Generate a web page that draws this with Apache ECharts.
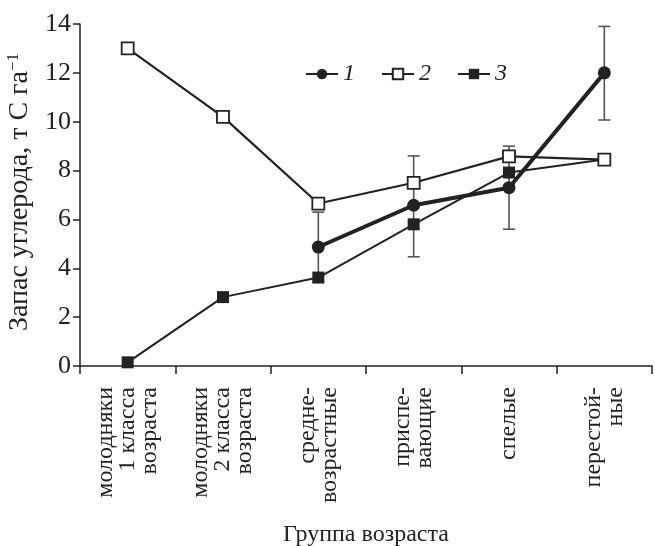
<!DOCTYPE html>
<html>
<head>
<meta charset="utf-8">
<script src="https://cdn.jsdelivr.net/npm/echarts@6/dist/echarts.min.js"></script>
<style>
  html, body { margin: 0; padding: 0; background: #fff; }
  #chart { width: 655px; height: 546px; }
</style>
</head>
<body>
<div id="chart"></div>
<script>
// age groups (x-axis)
var categories = [
  'молодняки\n1 класса\nвозраста',
  'молодняки\n2 класса\nвозраста',
  'средне-\nвозрастные',
  'приспе-\nвающие',
  'спелые',
  'перестой-\nные'
];
// carbon stock, t C/ha
var series1 = [null, null, 4.87, 6.58, 7.3, 12.0];
var series2 = [13.0, 10.2, 6.65, 7.5, 8.58, 8.45];
var series3 = [0.15, 2.82, 3.62, 5.8, 7.92, 8.45];
// error bars of series 1
var err1Low = [null, null, 3.45, 4.47, 5.6, 10.07];
var err1High = [null, null, 6.3, 8.6, 9.0, 13.9];

var serif = '"Liberation Serif", "DejaVu Serif", serif';

var errData = [];
for (var i = 0; i < categories.length; i++) {
  if (err1Low[i] != null) errData.push([i, err1Low[i], err1High[i]]);
}

var chart = echarts.init(document.getElementById('chart'));

var option = {
  backgroundColor: '#fff',
  animation: false,
  grid: { left: 80, right: 3, top: 24, bottom: 180, outerBoundsMode: 'none' },
  legend: {
    left: 300,
    top: 57,
    itemWidth: 32,
    itemHeight: 13,
    itemGap: 26,
    data: ['1', '2', '3'],
    textStyle: { fontFamily: serif, fontStyle: 'italic', fontSize: 24, color: '#222' }
  },
  xAxis: {
    type: 'category',
    data: categories,
    boundaryGap: true,
    name: 'Группа возраста',
    nameLocation: 'middle',
    nameGap: 157,
    nameTextStyle: { fontFamily: serif, fontSize: 24, color: '#222' },
    axisLine: { lineStyle: { color: '#222', width: 1.5 } },
    axisTick: { show: true, length: 8, lineStyle: { color: '#222', width: 1.5 } },
    axisLabel: {
      rotate: 90,
      interval: 0,
      margin: 21,
      fontFamily: serif,
      fontSize: 24,
      lineHeight: 22,
      color: '#222'
    },
    splitLine: { show: false }
  },
  yAxis: {
    type: 'value',
    min: 0,
    max: 14,
    interval: 2,
    name: '{a|Запас углерода, т С га}{s|−1}',
    nameLocation: 'middle',
    nameGap: 38,
    nameTextStyle: {
      padding: [0, 0, 0, 6],
      rich: {
        a: { fontFamily: serif, fontSize: 28, color: '#222' },
        s: { fontFamily: serif, fontSize: 17, color: '#222', verticalAlign: 'top', padding: [0, 0, 14, 0] }
      }
    },
    axisLine: { show: true, lineStyle: { color: '#222', width: 1.5 } },
    axisTick: { show: true, length: 7, lineStyle: { color: '#222', width: 1.5 } },
    axisLabel: { fontFamily: serif, fontSize: 26, color: '#222', margin: 9 },
    splitLine: { show: false }
  },
  series: [
    {
      name: 'err',
      type: 'custom',
      data: errData,
      z: 1,
      renderItem: function (params, api) {
        var x = api.value(0);
        var lo = api.coord([x, api.value(1)]);
        var hi = api.coord([x, api.value(2)]);
        var w = 6;
        var st = { stroke: '#555', lineWidth: 1.6 };
        return {
          type: 'group',
          children: [
            { type: 'line', shape: { x1: lo[0], y1: lo[1], x2: hi[0], y2: hi[1] }, style: st },
            { type: 'line', shape: { x1: lo[0] - w, y1: lo[1], x2: lo[0] + w, y2: lo[1] }, style: st },
            { type: 'line', shape: { x1: hi[0] - w, y1: hi[1], x2: hi[0] + w, y2: hi[1] }, style: st }
          ]
        };
      }
    },
    {
      name: '3',
      type: 'line',
      data: series3,
      symbol: 'rect',
      symbolSize: 12,
      z: 3,
      lineStyle: { color: '#222', width: 2 },
      itemStyle: { color: '#222', borderColor: '#222', borderWidth: 0 }
    },
    {
      name: '2',
      type: 'line',
      data: series2,
      symbol: 'rect',
      symbolSize: 12,
      z: 4,
      lineStyle: { color: '#222', width: 2.2 },
      itemStyle: { color: '#fff', borderColor: '#222', borderWidth: 1.8 }
    },
    {
      name: '1',
      type: 'line',
      data: series1,
      symbol: 'circle',
      symbolSize: 13,
      z: 5,
      connectNulls: false,
      lineStyle: { color: '#222', width: 4 },
      itemStyle: { color: '#222', borderWidth: 0 }
    }
  ]
};

chart.setOption(option);
</script>
</body>
</html>
